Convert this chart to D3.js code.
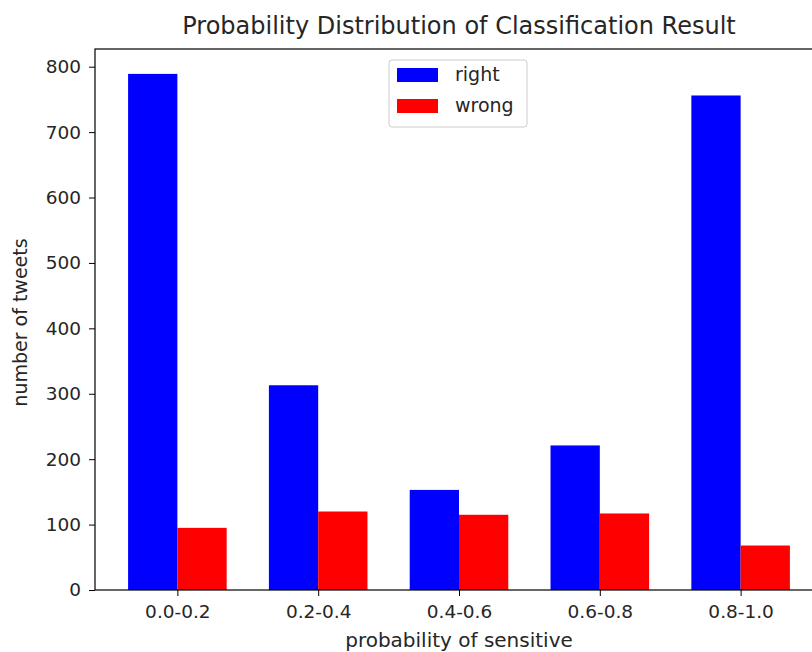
<!DOCTYPE html>
<html>
<head>
<meta charset="utf-8">
<script src="https://cdn.jsdelivr.net/npm/d3@7"></script>
<style>
  body { margin: 0; background: #fff; }
  text { font-family: "DejaVu Sans", sans-serif; fill: #262626; }
</style>
</head>
<body>
<div id="chart"></div>
<script>
const categories = ["0.0-0.2", "0.2-0.4", "0.4-0.6", "0.6-0.8", "0.8-1.0"];
const rightValues = [789, 313, 153, 221, 756];
const wrongValues = [95, 120, 115, 117, 68];
const yTicks = [0, 100, 200, 300, 400, 500, 600, 700, 800];
const seriesNames = ["right", "wrong"];
const seriesColors = ["#0000ff", "#ff0000"];

const W = 812, H = 652;
const margin = { top: 49, right: -11, bottom: 62, left: 95 };
const width = W - margin.left - margin.right;
const height = H - margin.top - margin.bottom;
const barW = 0.35;

const svg = d3.select("#chart").append("svg")
  .attr("width", W).attr("height", H);

const g = svg.append("g")
  .attr("transform", `translate(${margin.left},${margin.top})`);

// x is a linear scale on category index (matplotlib-style)
const x = d3.scaleLinear()
  .domain([-barW - 0.235, categories.length - 1 + barW + 0.235])
  .range([0, width]);

const y = d3.scaleLinear()
  .domain([0, 800 * (height) / (590 - 66.7)])
  .range([height, 0]);

// Bars
const series = [rightValues, wrongValues];
series.forEach((vals, s) => {
  g.selectAll(null)
    .data(vals)
    .enter()
    .append("rect")
    .attr("x", (d, i) => x(s === 0 ? i - barW : i))
    .attr("width", x(barW) - x(0))
    .attr("y", (d) => y(d))
    .attr("height", (d) => y(0) - y(d))
    .attr("fill", seriesColors[s]);
});

// Axes
const xAxis = g.append("g")
  .attr("transform", `translate(0,${height})`)
  .call(d3.axisBottom(x)
    .tickValues(d3.range(categories.length))
    .tickFormat((i) => categories[i])
    .tickSize(6).tickPadding(9));
const yAxis = g.append("g")
  .call(d3.axisLeft(y).tickValues(yTicks).tickSize(6).tickPadding(8));

[xAxis, yAxis].forEach((ax) => {
  ax.select(".domain").remove();
  ax.selectAll("line").attr("stroke", "#000").attr("stroke-width", 1);
  ax.selectAll("text").attr("font-size", "18.5px")
    .attr("font-family", "DejaVu Sans").attr("fill", "#262626");
});

// Spines
g.append("rect")
  .attr("x", 0).attr("y", 0)
  .attr("width", width).attr("height", height)
  .attr("fill", "none").attr("stroke", "#000").attr("stroke-width", 1.2);

// Title and labels
svg.append("text")
  .attr("x", margin.left + width / 2).attr("y", 34)
  .attr("text-anchor", "middle").attr("font-size", "24px")
  .text("Probability Distribution of Classification Result");

svg.append("text")
  .attr("x", margin.left + width / 2).attr("y", 647)
  .attr("text-anchor", "middle").attr("font-size", "20px")
  .text("probability of sensitive");

svg.append("text")
  .attr("transform", `translate(27,${margin.top + height / 2 + 3}) rotate(-90)`)
  .attr("text-anchor", "middle").attr("font-size", "19px")
  .text("number of tweets");

// Legend
const legend = svg.append("g").attr("transform", "translate(389,60)");
legend.append("rect")
  .attr("width", 138).attr("height", 67).attr("rx", 3)
  .attr("fill", "#fff").attr("stroke", "#cccccc").attr("stroke-width", 1);
seriesNames.forEach((name, i) => {
  legend.append("rect")
    .attr("x", 8).attr("y", 8 + i * 31)
    .attr("width", 41).attr("height", 14)
    .attr("fill", seriesColors[i]);
  legend.append("text")
    .attr("x", 66).attr("y", 21 + i * 31)
    .attr("font-size", "19px")
    .text(name);
});
</script>
</body>
</html>
